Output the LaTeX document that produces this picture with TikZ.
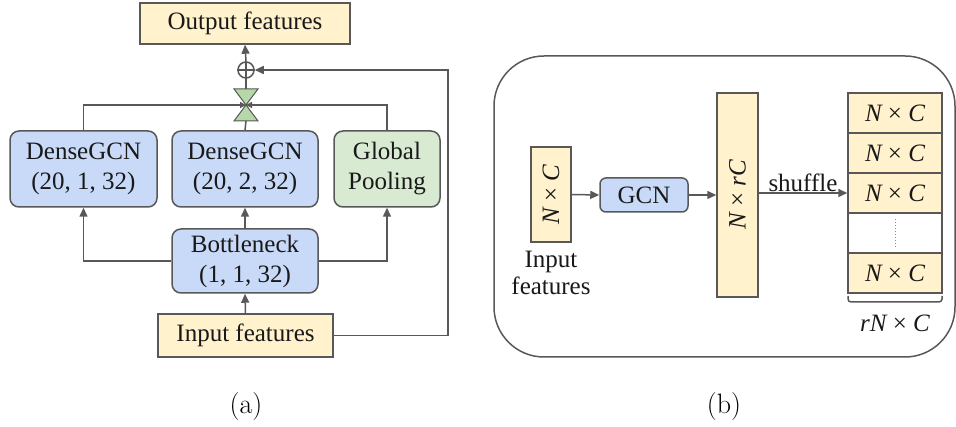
\documentclass[tikz,border=0pt]{standalone}
\usepackage{fontspec}
\newfontfamily\tnr{Liberation Serif}
\usetikzlibrary{arrows.meta}
\definecolor{lineg}{HTML}{585858}
\definecolor{yfill}{HTML}{FFF2CC}
\definecolor{bfill}{HTML}{C9DAF8}
\definecolor{gfill}{HTML}{D9EAD3}
\definecolor{tiefill}{HTML}{B6D7A8}
\newcommand\txtsize{\fontsize{25}{30}\selectfont}
\newcommand\NxC{{\itshape N} × {\itshape C}}
\tikzset{
  conn/.style={draw=lineg, line width=1.5pt},
  arr/.style={conn, -{Triangle[length=9pt,width=8pt]}},
  box/.style={draw=lineg, line width=1.5pt, inner sep=0pt, align=center,
    font=\tnr\txtsize, text=black!90},
  ybox/.style={box, fill=yfill},
  bbox/.style={box, fill=bfill, rounded corners=9pt},
  gbox/.style={box, fill=gfill, rounded corners=9pt},
  plain/.style={inner sep=0pt, align=center, font=\tnr\txtsize, text=black!90},
}
\begin{document}
\begin{tikzpicture}[x=1pt,y=-1pt]
\useasboundingbox (0,0) rectangle (956,427);

% ---------- (a) ----------
\node[ybox, minimum width=210, minimum height=41] (out) at (245,23.5) {Output features};
\node[bbox, minimum width=147, minimum height=76] (dg1) at (83.5,169) {DenseGCN\\(20, 1, 32)};
\node[bbox, minimum width=146, minimum height=76] (dg2) at (245,169) {DenseGCN\\(20, 2, 32)};
\node[gbox, minimum width=106, minimum height=76] (gp) at (387,169) {Global\\Pooling};
\node[bbox, minimum width=146, minimum height=64] (bn) at (245,261) {Bottleneck\\(1, 1, 32)};
\node[ybox, minimum width=175, minimum height=43] (in) at (245.5,335.5) {Input features};
\node[circle, draw=lineg, line width=1.5pt, fill=white, minimum size=16, inner sep=0pt] (plus) at (246,70) {};
\draw[conn] (plus.north) -- (plus.south) (plus.west) -- (plus.east);
\coordinate (tie) at (246,105);

% concatenation symbol
\filldraw[fill=tiefill, draw=lineg, line width=1pt]
  (234,89) -- (258,89) -- (tie) -- cycle
  (234,121) -- (258,121) -- (tie) -- cycle;

% bottleneck to branches
\draw[arr] (in.north) -- (bn.south);
\draw[arr] (bn.north) -- (dg2.south);
\draw[arr] (bn.west) -| (dg1.south);
\draw[arr] (bn.east) -| (gp.south);

% branches to concatenation
\draw[conn] (dg2.north) -- (246,121);
\draw[conn, -{Triangle[length=6pt,width=6pt]}] (dg1.north) |- (tie);
\draw[conn, -{Triangle[length=6pt,width=6pt]}] (gp.north) |- (tie);
\draw[conn] (246,89) -- (plus.south);
\draw[arr] (plus.north) -- (out.south);

% residual connection
\draw[arr] (in.east) -- (448,335.5) |- (plus.east);

\node[font=\fontsize{28}{32}\selectfont] (capa) at (246,407) {(a)};

% ---------- (b) ----------
\draw[draw=lineg, line width=1.5pt, rounded corners=50] (494,56) rectangle (955,357);

\node[ybox, minimum width=40, minimum height=95] (nc) at (551,194.5) {};
\node[plain, rotate=90] at (nc.center) {\NxC};
\node[plain, font=\tnr\fontsize{25}{27}\selectfont] (inlab) at (551,273) {Input\\features};

\node[bbox, rounded corners=6pt, minimum width=88, minimum height=34] (gcn) at (644,195) {GCN};

\node[ybox, minimum width=41, minimum height=204] (nrc) at (737.5,195) {};
\node[plain, rotate=90] at (nrc.center) {{\itshape N} × {\itshape rC}};

\node[ybox, minimum width=94, minimum height=40] (r1) at (895,113) {\NxC};
\node[ybox, minimum width=94, minimum height=40] (r2) at (895,153) {\NxC};
\node[ybox, minimum width=94, minimum height=40] (r3) at (895,193) {\NxC};
\node[box, fill=white, minimum width=94, minimum height=40] (r4) at (895,233) {};
\node[ybox, minimum width=94, minimum height=40] (r5) at (895,273) {\NxC};
\draw[lineg!70, line width=1pt, dotted] (895,219) -- (895,248);

\draw[arr] (nc.east) -- (gcn.west);
\draw[arr] (gcn.east) -- (nrc.west |- gcn.east);
\draw[arr] (nrc.east |- r3.west) -- node[plain, above, yshift=1pt] (shuf) {shuffle} (r3.west);

% bracket under the stack
\draw[conn, rounded corners=3pt] (848,296) -- (848,302) -- (942,302) -- (942,296);
\node[plain] (rnc) at (895,323) {{\itshape rN} × {\itshape C}};

\node[font=\fontsize{28}{32}\selectfont] (capb) at (724,407) {(b)};
\end{tikzpicture}
\end{document}
